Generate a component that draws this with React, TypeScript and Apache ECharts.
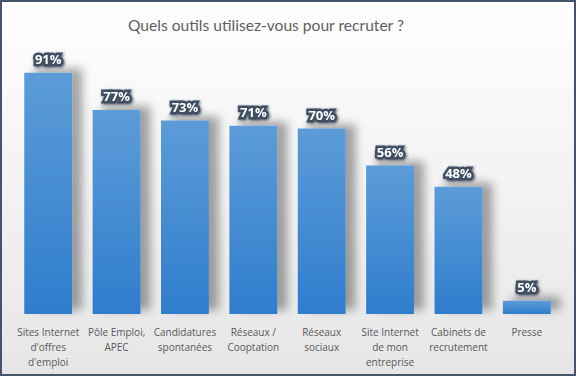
import React, { useEffect, useRef } from "react";
import * as echarts from "echarts";

const categories = [
  "Sites Internet\nd'offres\nd'emploi",
  "Pôle Emploi,\nAPEC",
  "Candidatures\nspontanées",
  "Réseaux /\nCooptation",
  "Réseaux\nsociaux",
  "Site Internet\nde mon\nentreprise",
  "Cabinets de\nrecrutement",
  "Presse",
];
const values = [91, 77, 73, 71, 70, 56, 48, 5];
const titleText = "Quels outils utilisez-vous pour recruter ?";

export default function App() {
  const ref = useRef<HTMLDivElement>(null);
  useEffect(() => {
    if (!ref.current) return;
    const chart = echarts.init(ref.current, undefined, { renderer: "svg" });
    chart.setOption({
      animation: false,
      backgroundColor: {
        type: "linear",
        x: 0, y: 0, x2: 0, y2: 1,
        colorStops: [
          { offset: 0, color: "#ffffff" },
          { offset: 1, color: "#e6e6e6" },
        ],
      },
      title: {
        text: titleText,
        left: 123,
        top: 12,
        textStyle: {
          fontFamily: "Lato",
          fontSize: 15.6,
          fontWeight: "normal",
          color: "#5f5f5f",
        },
      },
      grid: { left: 14, right: 15, top: 49, bottom: 62, containLabel: false },
      xAxis: {
        type: "category",
        data: categories,
        axisLine: { show: false },
        axisTick: { show: false },
        axisLabel: {
          interval: 0,
          margin: 10,
          fontFamily: "Open Sans",
          fontSize: 10,
          lineHeight: 15,
          color: "#595959",
        },
      },
      yAxis: {
        type: "value",
        min: 0,
        max: 100,
        show: false,
        splitLine: { show: false },
      },
      series: [
        {
          type: "bar",
          data: values,
          barWidth: "70%",
          itemStyle: {
            color: {
              type: "linear",
              x: 0, y: 0, x2: 0, y2: 1,
              colorStops: [
                { offset: 0, color: "#5c9cd8" },
                { offset: 1, color: "#2f7dcd" },
              ],
            },
            shadowColor: "rgba(0,0,0,0.35)",
            shadowBlur: 10,
            shadowOffsetX: 10,
            shadowOffsetY: -4,
          },
          label: {
            show: true,
            position: "top",
            distance: 7,
            formatter: "{c}%",
            fontFamily: "Open Sans",
            fontWeight: "bold",
            fontSize: 13,
            color: "#ffffff",
            textBorderColor: "#3f4f63",
            textBorderWidth: 5,
            textShadowColor: "rgba(40,50,65,0.8)",
            textShadowBlur: 3,
            textShadowOffsetX: 1,
            textShadowOffsetY: 1,
          },
        },
      ],
      graphic: [
        {
          type: "rect",
          shape: { x: 1, y: 1, width: 574, height: 374 },
          style: { fill: "none", stroke: "#44546a", lineWidth: 2 },
          z: 100,
          silent: true,
        },
      ],
    });
    return () => chart.dispose();
  }, []);
  return (
    <div
      ref={ref}
      style={{ position: "absolute", left: 0, top: 0, width: 576, height: 376 }}
    />
  );
}
